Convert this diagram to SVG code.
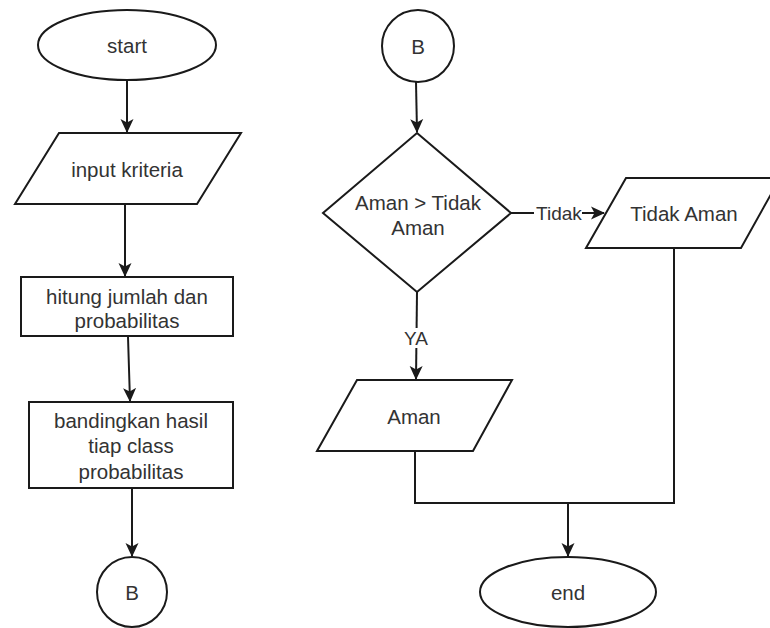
<svg xmlns="http://www.w3.org/2000/svg" width="770" height="628" viewBox="0 0 770 628">
  <style>
    .shape { fill: #ffffff; stroke: #1a1a1a; stroke-width: 2; }
    .edge { fill: none; stroke: #1a1a1a; stroke-width: 2; }
    .label { font-family: "Liberation Sans", Arial, sans-serif; font-size: 20.5px; fill: #333333; text-anchor: middle; dominant-baseline: central; }
    .elabel { font-family: "Liberation Sans", Arial, sans-serif; font-size: 19px; fill: #333333; text-anchor: middle; dominant-baseline: central; }
  </style>
  <defs>
    <marker id="arrow" viewBox="0 0 14 14" refX="13" refY="7" markerWidth="14" markerHeight="14" markerUnits="userSpaceOnUse" orient="auto">
      <path d="M0,0.5 L14,7 L0,13.5 L3.5,7 Z" fill="#1a1a1a"/>
    </marker>
  </defs>
  <rect width="770" height="628" fill="#ffffff"/>

  <!-- connectors -->
  <g id="connectors">
    <path class="edge" d="M127,80 L127,132" marker-end="url(#arrow)"/>
    <path class="edge" d="M125,205 L125,276" marker-end="url(#arrow)"/>
    <path class="edge" d="M128,337 L130,401" marker-end="url(#arrow)"/>
    <path class="edge" d="M132,489 L132,556" marker-end="url(#arrow)"/>
    <path class="edge" d="M416,82 L417,132" marker-end="url(#arrow)"/>
    <path class="edge" d="M511,213 L604,213" marker-end="url(#arrow)"/>
    <path class="edge" d="M417,292 L416,379" marker-end="url(#arrow)"/>
    <path class="edge" d="M415,451 L415,503 L674,503 L674,248"/>
    <path class="edge" d="M568,503 L568,556" marker-end="url(#arrow)"/>
    <!-- edge labels -->
    <rect x="534" y="203" width="48" height="20" fill="#ffffff"/>
    <text class="elabel" x="559" y="213">Tidak</text>
    <rect x="403" y="328" width="26" height="20" fill="#ffffff"/>
    <text class="elabel" x="416" y="338">YA</text>
  </g>

  <!-- left column -->
  <g id="start">
    <ellipse class="shape" cx="127" cy="45" rx="89" ry="35"/>
    <text class="label" x="127" y="45">start</text>
  </g>
  <g id="input-kriteria">
    <polygon class="shape" points="59,133 241,133 197,204 15,204"/>
    <text class="label" x="127" y="169">input kriteria</text>
  </g>
  <g id="hitung">
    <rect class="shape" x="21" y="277" width="212" height="59"/>
    <text class="label" x="127" y="296">hitung jumlah dan</text>
    <text class="label" x="127" y="320">probabilitas</text>
  </g>
  <g id="bandingkan">
    <rect class="shape" x="29" y="402" width="204" height="86"/>
    <text class="label" x="131" y="420">bandingkan hasil</text>
    <text class="label" x="131" y="445">tiap class</text>
    <text class="label" x="131" y="471">probabilitas</text>
  </g>
  <g id="connector-b-out">
    <circle class="shape" cx="132" cy="592" r="35"/>
    <text class="label" x="132" y="592">B</text>
  </g>

  <!-- right column -->
  <g id="connector-b-in">
    <circle class="shape" cx="418" cy="46" r="36"/>
    <text class="label" x="418" y="46">B</text>
  </g>
  <g id="decision">
    <polygon class="shape" points="417,133 511,213 417,292 323,213"/>
    <text class="label" x="418" y="202">Aman &gt; Tidak</text>
    <text class="label" x="418" y="227">Aman</text>
  </g>
  <g id="tidak-aman">
    <polygon class="shape" points="626,178 780,178 741,248 586,248"/>
    <text class="label" x="684" y="213">Tidak Aman</text>
  </g>
  <g id="aman">
    <polygon class="shape" points="357,380 512,380 473,451 317,451"/>
    <text class="label" x="414" y="416">Aman</text>
  </g>
  <g id="end">
    <ellipse class="shape" cx="568" cy="592" rx="88" ry="35"/>
    <text class="label" x="568" y="592">end</text>
  </g>
</svg>
